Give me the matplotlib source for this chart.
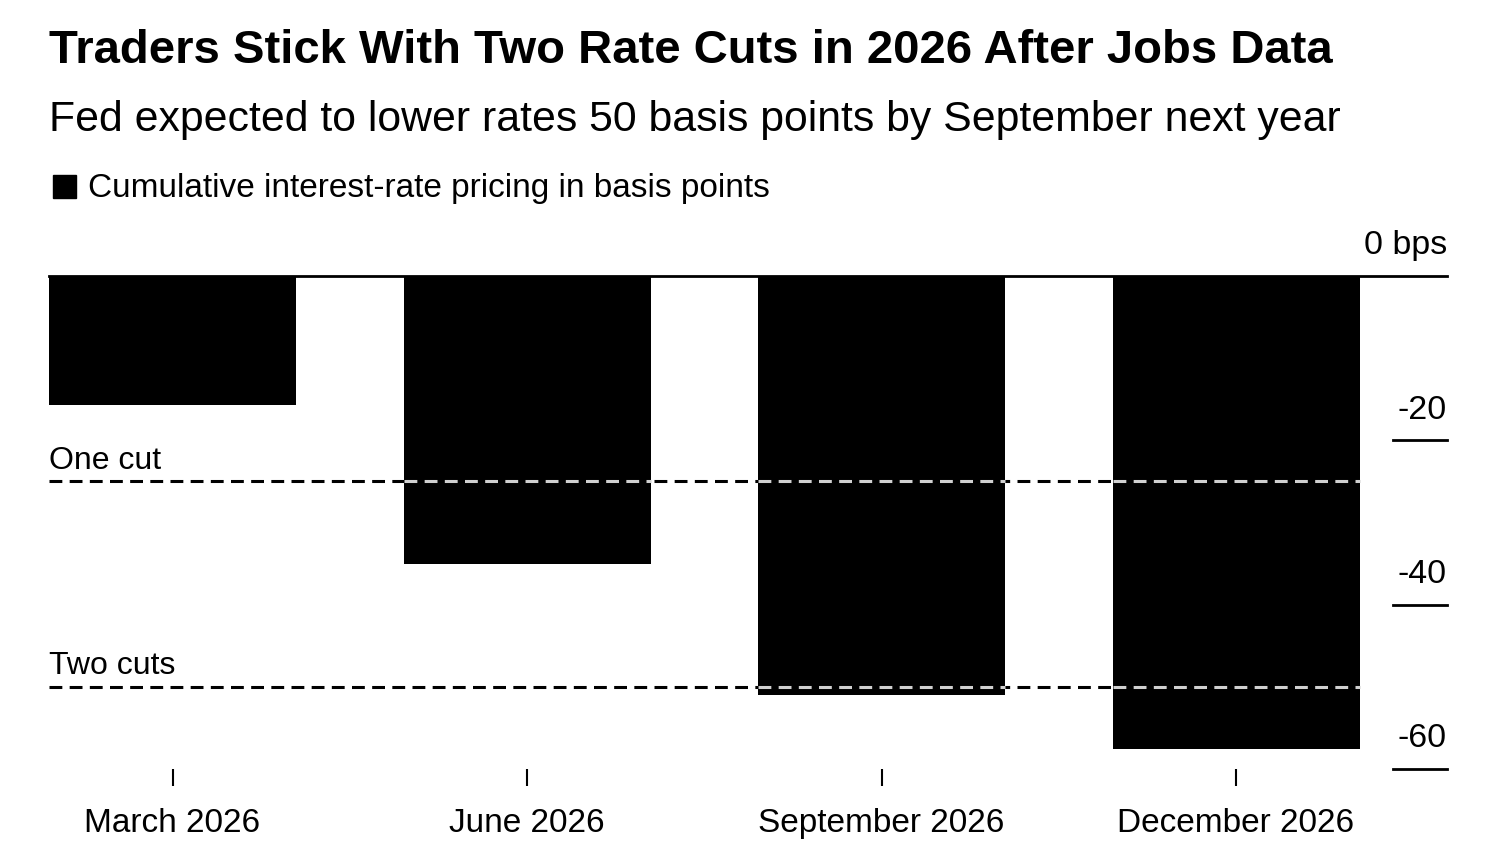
import numpy as np
import matplotlib
matplotlib.use("Agg")
from matplotlib import pyplot as plt
from matplotlib import transforms

plt.rcParams['font.family'] = ['Liberation Sans', 'DejaVu Sans']

# dati
mesi = ["March 2026", "June 2026", "September 2026", "December 2026"]
pricing = [-15.7, -35.0, -51.0, -57.6]   # bps cumulativi
tagli_valori = [-25, -50]
tagli_nomi = ["One cut", "Two cuts"]
y_ticks = [0, -20, -40, -60]
y_tick_labels = ["0 bps", "-20", "-40", "-60"]

W, H = 1500, 850
fig = plt.figure(figsize=(W/100, H/100), dpi=100)
# asse: da x=49 a 1447 px, da y=276 a 769 px
ax = fig.add_axes([49/W, 1-769/H, (1447-49)/W, (769-276)/H])

x = np.arange(len(mesi))
larghezza = 0.697
ax.bar(x, pricing, width=larghezza, color="black", zorder=2)

ax.set_xlim(-larghezza/2, -larghezza/2 + 1398/354.5)
ax.set_ylim(-60, 0)

# linee tratteggiate per i tagli
for v, nome in zip(tagli_valori, tagli_nomi):
    ax.axhline(v, xmin=0, xmax=(1359-49)/1398, color="black", lw=2.2,
               dashes=(4.2, 2.4), zorder=1)
    for xi, p in zip(x, pricing):
        if p < v:
            ax.hlines(v, xi - larghezza/2, xi + larghezza/2, color="#d0d0d0",
                      lw=2.2, linestyles=(0, (4.2, 2.4)), zorder=3)
    ax.text(-larghezza/2, v + 0.7, nome, fontsize=23, va="bottom", ha="left")

# asse y a destra, disegnato a mano
tr = transforms.blended_transform_factory(ax.transAxes, ax.transData)
ax.plot([0, 1], [0, 0], transform=tr, color="black", lw=2, clip_on=False, zorder=4)
for v, lab in zip(y_ticks, y_tick_labels):
    if v != 0:
        ax.plot([(1393-49)/1398, 1], [v, v], transform=tr, color="black", lw=2,
                clip_on=False)
    ax.text(1, v + 1.8, lab, transform=tr, fontsize=24.5, ha="right", va="bottom")

for s in ax.spines.values():
    s.set_visible(False)
ax.set_yticks([])
ax.set_xticks(x)
ax.set_xticklabels(mesi, fontsize=24)
ax.tick_params(axis="x", length=12, width=1.5, pad=16, color="black")

fig.text(49/W, 1-51/H, "Traders Stick With Two Rate Cuts in 2026 After Jobs Data",
         fontsize=34, fontweight="bold", va="center", ha="left")
fig.text(49/W, 1-120/H, "Fed expected to lower rates 50 basis points by September next year",
         fontsize=30.8, va="center", ha="left")
fig.patches.append(plt.Rectangle((53/W, 1-198/H), 23/W, 23/H, color="black",
                                 transform=fig.transFigure, figure=fig))
fig.text(88/W, 1-189/H, "Cumulative interest-rate pricing in basis points",
         fontsize=24, va="center", ha="left")

fig.savefig("out.png", dpi=100, facecolor="white")
